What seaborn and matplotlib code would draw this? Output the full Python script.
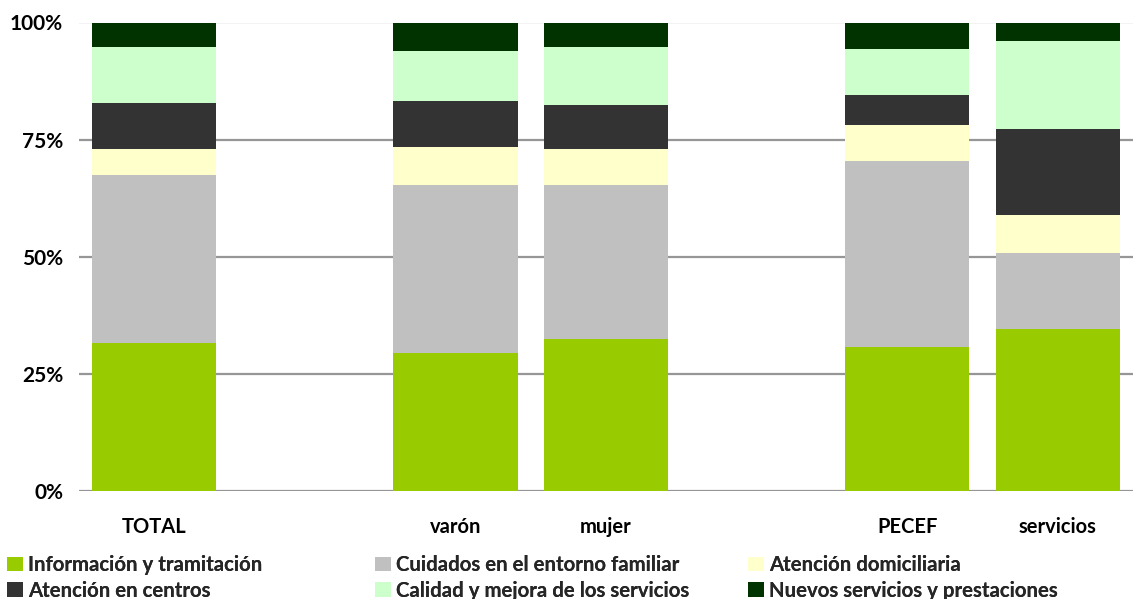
import numpy as np
import pandas as pd
import matplotlib
matplotlib.use("Agg")
import matplotlib.pyplot as plt
import seaborn as sns
from matplotlib.patches import Patch

# Category slots (blank slots leave gaps between groups)
slots = ["TOTAL", " ", "varón", "mujer", "  ", "PECEF", "servicios"]
grupos = ["TOTAL", "varón", "mujer", "PECEF", "servicios"]

# Share of each demand type (%)
informacion = [31.5, 29.4, 32.4, 30.7, 34.5]
cuidados = [35.9, 35.9, 32.9, 39.7, 16.3]
domiciliaria = [5.6, 8.1, 7.7, 7.7, 8.1]
centros = [9.8, 9.8, 9.4, 6.4, 18.4]
calidad = [12.0, 10.7, 12.4, 9.8, 18.7]
nuevos = [5.2, 6.1, 5.2, 5.7, 4.0]

series_names = ["Información y tramitación", "Cuidados en el entorno familiar",
                "Atención domiciliaria", "Atención en centros",
                "Calidad y mejora de los servicios", "Nuevos servicios y prestaciones"]
colors = ["#99CC00", "#C0C0C0", "#FFFFCC", "#333333", "#CCFFCC", "#003300"]
yticks = [0, 25, 50, 75, 100]
ytick_labels = ["0%", "25%", "50%", "75%", "100%"]

sns.set_theme(style="white")
plt.rcParams["font.family"] = ["Lato", "DejaVu Sans"]
plt.rcParams["font.weight"] = "bold"

values = np.array([informacion, cuidados, domiciliaria, centros, calidad, nuevos])
values = values / values.sum(axis=0) * 100
cum = values.cumsum(axis=0)

fig = plt.figure(figsize=(11.33, 5.99), dpi=100)
ax = fig.add_axes([79 / 1133, 1 - 490.7 / 599, 1054 / 1133, 468.2 / 599])

# Stacked 100% bars: draw cumulative heights from the top layer down
for i in range(len(series_names) - 1, -1, -1):
    df = pd.DataFrame({"grupo": grupos, "valor": cum[i]})
    sns.barplot(data=df, x="grupo", y="valor", order=slots, color=colors[i],
                saturation=1, width=0.825, linewidth=0, ax=ax, zorder=2)

ax.set_xlim(-0.5, 6.5)
ax.set_ylim(0, 100)
ax.set_yticks(yticks)
ax.set_yticklabels(ytick_labels, fontsize=15, fontweight="bold", color="black")
ax.set_xticks(range(len(slots)))
ax.set_xticklabels(slots, fontsize=14.5, fontweight="bold", color="black")
ax.tick_params(axis="y", length=0, pad=11.5)
ax.tick_params(axis="x", length=0, pad=19)
ax.set_xlabel("")
ax.set_ylabel("")
for s in ax.spines.values():
    s.set_visible(False)
ax.yaxis.grid(True, color="#969696", linewidth=1.6, zorder=0)
ax.set_axisbelow(True)

# Legend laid out as a 3x2 grid
handles = [Patch(facecolor=c, edgecolor="none") for c in colors]
col_x = [7 / 1133, 375 / 1133, 748 / 1133]
for j in range(3):
    idx = [j, j + 3]
    leg = fig.legend([handles[k] for k in idx], [series_names[k] for k in idx],
                     loc="upper left", bbox_to_anchor=(col_x[j], 1 - 555 / 599),
                     frameon=False, borderpad=0, borderaxespad=0,
                     handlelength=0.78, handleheight=0.7, handletextpad=0.25,
                     labelspacing=0.28, prop={"family": "Lato", "weight": "bold", "size": 14.7})
    fig.add_artist(leg)

fig.savefig("out.png", dpi=100)
